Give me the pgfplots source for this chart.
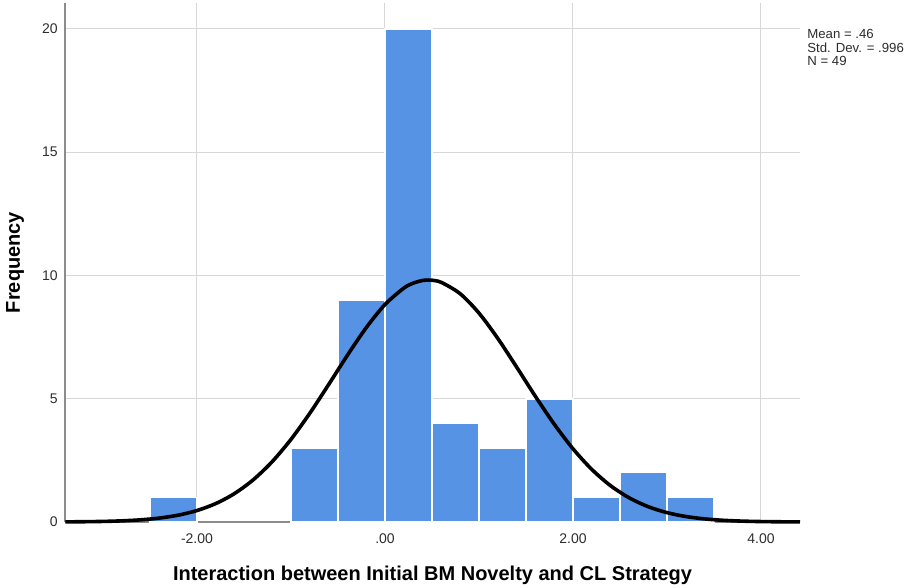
\documentclass[border=0pt]{standalone}
\usepackage{pgfplots}
\pgfplotsset{compat=1.18}
\usepackage{fontspec}
\setmainfont{Liberation Sans}

\definecolor{barblue}{RGB}{86,147,228}
\definecolor{gridgray}{RGB}{215,215,215}
\definecolor{axisgray}{RGB}{140,140,140}
\definecolor{ticktext}{RGB}{45,45,45}

\begin{document}
\begin{tikzpicture}
% fixed page frame around the plot area
\path[use as bounding box] (-32.5pt,-33pt) rectangle (422pt,261pt);
\begin{axis}[
  at={(0,0)}, anchor=south west,
  scale only axis,
  width=367.5pt, height=259.5pt,
  xmin=-3.404, xmax=4.415,
  ymin=0, ymax=21.05,
  axis x line*=bottom, axis y line*=left,
  axis line style={axisgray, line width=0.6pt},
  xtick={-2,0,2,4},
  xticklabels={-2.00,.00,2.00,4.00},
  ytick={0,5,10,15,20},
  yticklabels={0,5,10,15,20},
  major tick length=0pt,
  grid=major,
  major grid style={gridgray, line width=0.5pt},
  ticklabel style={font=\fontsize{7}{8}\selectfont, text=ticktext},
  xticklabel style={anchor=north, inner sep=0pt, yshift=-5.5pt},
  yticklabel style={anchor=east, inner sep=0pt, xshift=-3.5pt},
  xlabel={Interaction between Initial BM Novelty and CL Strategy},
  ylabel={Frequency},
  label style={font=\fontsize{10}{12}\selectfont\bfseries, text=black},
  xlabel style={at={(axis description cs:0.5,-0.102)}, anchor=center},
  ylabel style={at={(axis description cs:-0.068,0.5)}, anchor=center},
  clip=false,
]
% histogram, bin width 0.5
\addplot[ybar interval, fill=barblue, draw=white, line width=0.8pt]
  coordinates {(-2.5,1) (-2.0,1)};
\addplot[ybar interval, fill=barblue, draw=white, line width=0.8pt]
  coordinates {(-1.0,3) (-0.5,9) (0.0,20) (0.5,4) (1.0,3) (1.5,5)
               (2.0,1) (2.5,2) (3.0,1) (3.5,1)};
% fitted normal curve (mean .46, sd .996, N = 49)
\addplot[black, line width=1.8pt, smooth] coordinates {
  (-3.40,0.0054) (-3.2,0.0115) (-3.0,0.0235) (-2.8,0.0463) (-2.6,0.0875)
  (-2.4,0.1590) (-2.2,0.2774) (-2.0,0.4647) (-1.8,0.7478) (-1.6,1.1558)
  (-1.4,1.7165) (-1.2,2.4472) (-1.0,3.3514) (-0.8,4.4087) (-0.6,5.5701)
  (-0.4,6.7600) (-0.2,7.8789) (0.0,8.8207) (0.2,9.4847) (0.3,9.6876)
  (0.4,9.7956) (0.46,9.8134) (0.5,9.8055) (0.6,9.7169) (0.8,9.2580)
  (1.0,8.4721) (1.2,7.4465) (1.4,6.2863) (1.6,5.0973) (1.8,3.9699)
  (2.0,2.9696) (2.2,2.1333) (2.4,1.4719) (2.6,0.9758) (2.8,0.6213)
  (3.0,0.3799) (3.2,0.2231) (3.4,0.1258) (3.6,0.0682) (3.8,0.0355)
  (4.0,0.0177) (4.2,0.0085) (4.415,0.0038)
};
\node[anchor=north west, align=left, inner sep=0pt,
      font=\fontsize{6.6}{6.7}\selectfont, text=ticktext]
  at (rel axis cs:1,1) [xshift=3.5pt, yshift=-13pt]
  {Mean = .46\\Std. Dev. = .996\\N = 49};
\end{axis}
\end{tikzpicture}
\end{document}
